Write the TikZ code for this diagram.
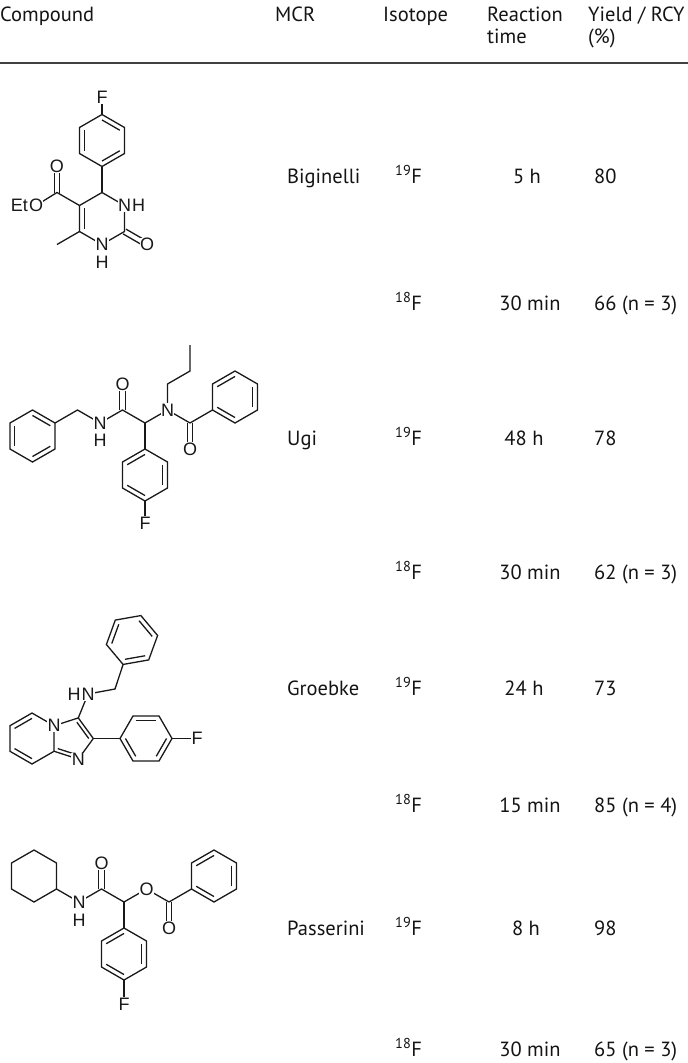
\documentclass[tikz,border=0pt]{standalone}
\usepackage{fontspec}
\setmainfont{PT Sans}
\newfontfamily\chemfont{Liberation Sans}
\usetikzlibrary{calc}
\tikzset{
  bond/.style={line width=1.3pt, color=black!90, line join=miter},
  lbl/.style={font=\chemfont\fontsize{18}{18}\selectfont, fill=white, inner sep=0.4pt, text=black!90},
  txt/.style={font=\fontsize{20.5}{22}\selectfont, anchor=base west, inner sep=0pt, text=black!92},
  txtc/.style={txt, anchor=base},
}
% point-up hexagon: prefix, center, bond length
\newcommand{\hexup}[3]{%
  \coordinate (#1c) at (#2);
  \coordinate (#1t) at ($(#2)+(0,{-#3})$);
  \coordinate (#1ur) at ($(#2)+({0.866*#3},{-0.5*#3})$);
  \coordinate (#1lr) at ($(#2)+({0.866*#3},{0.5*#3})$);
  \coordinate (#1b) at ($(#2)+(0,{#3})$);
  \coordinate (#1ll) at ($(#2)+({-0.866*#3},{0.5*#3})$);
  \coordinate (#1ul) at ($(#2)+({-0.866*#3},{-0.5*#3})$);
  \draw[bond] (#1t) -- (#1ur) -- (#1lr) -- (#1b) -- (#1ll) -- (#1ul) -- cycle;}
% point-left hexagon
\newcommand{\hexflat}[3]{%
  \coordinate (#1c) at (#2);
  \coordinate (#1l) at ($(#2)+({-#3},0)$);
  \coordinate (#1ul) at ($(#2)+({-0.5*#3},{-0.866*#3})$);
  \coordinate (#1ur) at ($(#2)+({0.5*#3},{-0.866*#3})$);
  \coordinate (#1r) at ($(#2)+({#3},0)$);
  \coordinate (#1lr) at ($(#2)+({0.5*#3},{0.866*#3})$);
  \coordinate (#1ll) at ($(#2)+({-0.5*#3},{0.866*#3})$);
  \draw[bond] (#1l) -- (#1ul) -- (#1ur) -- (#1r) -- (#1lr) -- (#1ll) -- cycle;}
% inner line of a ring double bond: end1, end2, ring centre
\newcommand{\ringdbl}[3]{\draw[bond] ($(#1)!0.21!(#3)$) -- ($(#2)!0.21!(#3)$);}
% centred double bond
\newcommand{\chemdbl}[2]{%
  \draw[bond] ($(#1)!2.8pt!90:(#2)$) -- ($(#2)!2.8pt!-90:(#1)$);
  \draw[bond] ($(#1)!2.8pt!-90:(#2)$) -- ($(#2)!2.8pt!90:(#1)$);}
\begin{document}
\begin{tikzpicture}[x=1pt,y=-1pt]
\useasboundingbox (0,0) rectangle (688,1063);
\fill[white] (0,0) rectangle (688,1063);

% ---------------- header ----------------
\node[txt] (hcomp) at (0,21) {Compound};
\node[txt] (hmcr) at (275,21) {MCR};
\node[txt] (hiso) at (383,21) {Isotope};
\node[txt] (hrt1) at (487,21) {Reaction};
\node[txt] (hrt2) at (487,43.5) {time};
\node[txt] (hy1) at (588,21) {Yield / RCY};
\node[txt] (hy2) at (588,43.5) {(\%)};
\coordinate (ruleL) at (0,63);
\coordinate (ruleR) at (688,63);
\draw[line width=1.2pt, black!75] (ruleL) -- (ruleR);

% ---------------- table text ----------------
\node[txt] (m1) at (287,183.5) {Biginelli};
\node[txt] (i1) at (395,183.5) {\textsuperscript{19}F};
\node[txtc] (t1) at (527,183.5) {5 h};
\node[txt] (y1) at (594,183.5) {80};
\node[txt] (i2) at (395,310.5) {\textsuperscript{18}F};
\node[txtc] (t2) at (530,310.5) {30 min};
\node[txt] (y2) at (594,310.5) {66 (n = 3)};

\node[txt] (m3) at (287,445.5) {Ugi};
\node[txt] (i3) at (395,445.5) {\textsuperscript{19}F};
\node[txtc] (t3) at (524,445.5) {48 h};
\node[txt] (y3) at (594,445.5) {78};
\node[txt] (i4) at (395,579.5) {\textsuperscript{18}F};
\node[txtc] (t4) at (530,579.5) {30 min};
\node[txt] (y4) at (594,579.5) {62 (n = 3)};

\node[txt] (m5) at (287,695.5) {Groebke};
\node[txt] (i5) at (395,695.5) {\textsuperscript{19}F};
\node[txtc] (t5) at (524,695.5) {24 h};
\node[txt] (y5) at (594,695.5) {73};
\node[txt] (i6) at (395,812.5) {\textsuperscript{18}F};
\node[txtc] (t6) at (530,812.5) {15 min};
\node[txt] (y6) at (594,812.5) {85 (n = 4)};

\node[txt] (m7) at (287,935.5) {Passerini};
\node[txt] (i7) at (395,935.5) {\textsuperscript{19}F};
\node[txtc] (t7) at (526,935.5) {8 h};
\node[txt] (y7) at (594,935.5) {98};
\node[txt] (i8) at (395,1056.5) {\textsuperscript{18}F};
\node[txtc] (t8) at (530,1056.5) {30 min};
\node[txt] (y8) at (594,1056.5) {65 (n = 3)};

% ================= Biginelli compound =================
\hexup{ba}{102,140.5}{26}
\ringdbl{bat}{baur}{bac}\ringdbl{baul}{ball}{bac}\ringdbl{balr}{bab}{bac}
\coordinate (bF) at (102,97);
\draw[bond] (bat) -- (bF);
\coordinate (pc) at (102,218.5);
\coordinate (C4) at (102,192.5);
\coordinate (N3) at (124.5,205.5);
\coordinate (C2) at (124.5,231.5);
\coordinate (N1) at (102,244.5);
\coordinate (C6) at (79.5,231.5);
\coordinate (C5) at (79.5,205.5);
\draw[bond] (bab) -- (C4);
\draw[bond] (C5) -- (C4) -- (N3) -- (C2) -- (N1) -- (C6) -- (C5);
\ringdbl{C5}{C6}{pc}
\coordinate (O2) at (147,244.5);
\chemdbl{C2}{O2}
\coordinate (Me) at (57,244.5);
\draw[bond] (C6) -- (Me);
\coordinate (Cest) at (57,192.5);
\coordinate (Oest) at (57,166.5);
\coordinate (Oet) at (36,205.5);
\draw[bond] (C5) -- (Cest) -- (Oet);
\chemdbl{Cest}{Oest}
\node[lbl] (bFn) at (bF) {F};
\node[lbl] (bN3) at (N3) {N};
\node[lbl, anchor=west, inner sep=0.2pt] (bH3) at (bN3.east) {H};
\node[lbl] (bN1) at (N1) {N};
\node[lbl] (bH1) at (102,262) {H};
\node[lbl] (bO2) at (O2) {O};
\node[lbl] (bOe) at (Oest) {O};
\node[lbl] (bOet) at (Oet) {O};
\node[lbl, anchor=east, inner sep=0.2pt] (bEt) at (bOet.west) {Et};

% ================= Ugi compound =================
\hexup{ua}{32.5,436}{26}
\ringdbl{uaul}{uall}{uac}\ringdbl{uat}{uaur}{uac}\ringdbl{ualr}{uab}{uac}
\coordinate (uCH2) at (77.5,410);
\coordinate (uN) at (100,423);
\coordinate (uC) at (122.5,410);
\coordinate (uO) at (122.5,384);
\coordinate (uCH) at (145,423);
\coordinate (uN2) at (167.5,410);
\coordinate (uP1) at (167.5,384);
\coordinate (uP2) at (190,371);
\coordinate (uP3) at (190,345);
\coordinate (uCb) at (190,423);
\coordinate (uOb) at (190,449);
\draw[bond] (uaur) -- (uCH2) -- (uN) -- (uC) -- (uCH) -- (uN2) -- (uCb);
\draw[bond] (uN2) -- (uP1) -- (uP2) -- (uP3);
\chemdbl{uC}{uO}
\chemdbl{uCb}{uOb}
\hexup{ub}{235,397}{26}
\draw[bond] (uCb) -- (ubll);
\ringdbl{ubul}{ubt}{ubc}\ringdbl{ubur}{ublr}{ubc}\ringdbl{ubb}{ubll}{ubc}
\hexup{uf}{145,475}{26}
\draw[bond] (uCH) -- (uft);
\ringdbl{uful}{uft}{ufc}\ringdbl{ufur}{uflr}{ufc}\ringdbl{ufb}{ufll}{ufc}
\coordinate (uF) at (145,523);
\draw[bond] (ufb) -- (uF);
\node[lbl] (uNn) at (uN) {N};
\node[lbl] (uHn) at (100,440.5) {H};
\node[lbl] (uOn) at (uO) {O};
\node[lbl] (uN2n) at (uN2) {N};
\node[lbl] (uObn) at (uOb) {O};
\node[lbl] (uFn) at (uF) {F};

% ================= Groebke compound =================
\coordinate (gz) at (132,640);
\foreach \a/\n in {110/1,170/2,230/3,290/4,350/5,50/6}{
  \coordinate (gb\n) at ($(gz)+(\a:26)$);}
\draw[bond] (gb1) -- (gb2) -- (gb3) -- (gb4) -- (gb5) -- (gb6) -- cycle;
\ringdbl{gb2}{gb3}{gz}\ringdbl{gb4}{gb5}{gz}\ringdbl{gb6}{gb1}{gz}
\coordinate (gCH2) at (115,689);
\coordinate (gNH) at (88,694);
\hexup{gp}{32,738.5}{25.5}
% gpt=C5, gpur=N4, gplr=C8a, gpb=C8, gpll=C7, gpul=C6
\coordinate (g5c) at (71.6,738.5);
\coordinate (gN1) at (78.3,759.1);
\coordinate (gC2) at (93.3,738.5);
\coordinate (gC3) at (78.3,717.9);
\draw[bond] (gpur) -- (gC3) -- (gC2) -- (gN1) -- (gplr);
\ringdbl{gpt}{gpul}{gpc}\ringdbl{gpll}{gpb}{gpc}
\ringdbl{gC3}{gC2}{g5c}\ringdbl{gplr}{gN1}{g5c}
\draw[bond] (gb1) -- (gCH2) -- (gNH) -- (gC3);
\hexflat{gf}{146,738.5}{26}
\draw[bond] (gC2) -- (gfl);
\ringdbl{gful}{gfur}{gfc}\ringdbl{gfr}{gflr}{gfc}\ringdbl{gfll}{gfl}{gfc}
\coordinate (gF) at (197,738.5);
\draw[bond] (gfr) -- (gF);
\node[lbl] (gNHn) at (gNH) {N};
\node[lbl, anchor=east, inner sep=0.2pt] (gHn) at (gNHn.west) {H};
\node[lbl] (gN4n) at (gpur) {N};
\node[lbl] (gN1n) at (gN1) {N};
\node[lbl] (gFn) at (gF) {F};

% ================= Passerini compound =================
\hexup{pa}{34,876}{26}
\coordinate (pN) at (79,902);
\coordinate (pC) at (101.5,889);
\coordinate (pO) at (101.5,863);
\coordinate (pCH) at (124,902);
\coordinate (pOe) at (146.5,889);
\coordinate (pCb) at (169,902);
\coordinate (pOb) at (169,928);
\draw[bond] (palr) -- (pN) -- (pC) -- (pCH) -- (pOe) -- (pCb);
\chemdbl{pC}{pO}
\chemdbl{pCb}{pOb}
\hexup{pb}{214,876}{26}
\draw[bond] (pCb) -- (pbll);
\ringdbl{pbul}{pbt}{pbc}\ringdbl{pbur}{pblr}{pbc}\ringdbl{pbb}{pbll}{pbc}
\hexup{pf}{124,954}{26}
\draw[bond] (pCH) -- (pft);
\ringdbl{pful}{pft}{pfc}\ringdbl{pfur}{pflr}{pfc}\ringdbl{pfb}{pfll}{pfc}
\coordinate (pF) at (124,1004);
\draw[bond] (pfb) -- (pF);
\node[lbl] (pNn) at (pN) {N};
\node[lbl] (pHn) at (79,920) {H};
\node[lbl] (pOn) at (pO) {O};
\node[lbl] (pOen) at (pOe) {O};
\node[lbl] (pObn) at (pOb) {O};
\node[lbl] (pFn) at (pF) {F};
\end{tikzpicture}
\end{document}
